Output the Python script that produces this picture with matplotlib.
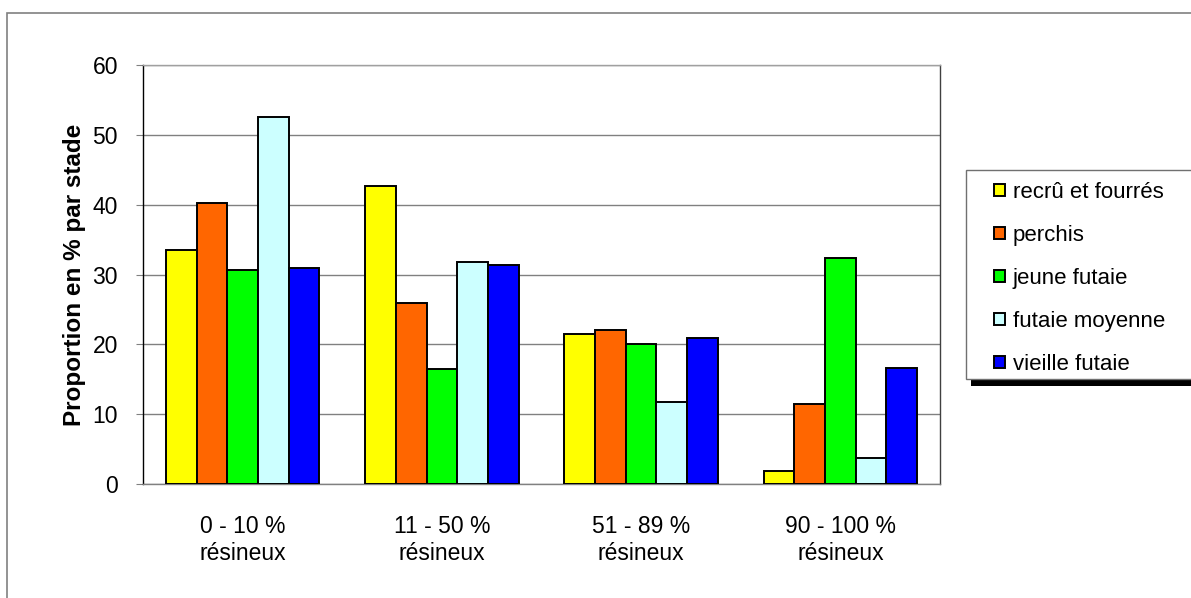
import numpy as np
import matplotlib
matplotlib.use("Agg")
import matplotlib.pyplot as plt
from matplotlib.patches import Rectangle

# --- données ---
categories = ["0 - 10 %\nrésineux", "11 - 50 %\nrésineux",
              "51 - 89 %\nrésineux", "90 - 100 %\nrésineux"]
series_names = ["recrû et fourrés", "perchis", "jeune futaie",
                "futaie moyenne", "vieille futaie"]
recru = [33.5, 42.7, 21.5, 1.9]
perchis = [40.3, 25.9, 22.1, 11.4]
jeune = [30.7, 16.5, 20.1, 32.3]
moyenne = [52.6, 31.8, 11.7, 3.7]
vieille = [31.0, 31.3, 20.9, 16.6]
colors = ["#ffff00", "#ff6600", "#00ff00", "#ccffff", "#0000ff"]

plt.rcParams['font.family'] = ['Liberation Sans', 'DejaVu Sans']

W, H = 1191, 598
fig = plt.figure(figsize=(W / 100, H / 100), dpi=100)

def fx(px): return px / W
def fy(py): return 1 - py / H

# cadre extérieur du graphique
fig.patches.append(Rectangle((fx(7), fy(700)), fx(1300), fy(13) - fy(700),
                             transform=fig.transFigure, fill=False,
                             edgecolor="#808080", lw=1.2, zorder=0))

ax = fig.add_axes([fx(143), fy(484), fx(940) - fx(143), fy(65) - fy(484)])

data = [recru, perchis, jeune, moyenne, vieille]
x = np.arange(len(categories))
bw = 1 / 6.5
for i, (vals, c, name) in enumerate(zip(data, colors, series_names)):
    ax.bar(x + (i - 2) * bw, vals, width=bw, color=c, edgecolor="black",
           linewidth=1.4, label=name, zorder=3)

ax.set_xlim(-0.5, len(categories) - 0.5)
ax.set_ylim(0, 60)
ax.set_yticks(range(0, 61, 10))
ax.set_xticks(x)
ax.set_xticklabels(categories, fontsize=16.5, linespacing=1.25)
ax.tick_params(axis='x', length=0, pad=22)
ax.tick_params(axis='y', labelsize=16.5, length=5, color="#808080", pad=13)
ax.yaxis.grid(True, color="#808080", lw=1.0, zorder=0)
ax.set_ylabel("Proportion en % par stade", fontsize=17.5, fontweight="bold",
              labelpad=5)

ax.spines['left'].set_color("black")
ax.spines['bottom'].set_color("#808080")
ax.spines['top'].set_color("#a0a0a0")
ax.spines['right'].set_color("#404040")
for s in ax.spines.values():
    s.set_linewidth(1.0)

# légende avec ombre
fig.patches.append(Rectangle((fx(971), fy(386)), fx(400), fy(177) - fy(386),
                             transform=fig.transFigure, facecolor="black",
                             edgecolor="none", zorder=1))
fig.patches.append(Rectangle((fx(966), fy(379)), fx(400), fy(170) - fy(379),
                             transform=fig.transFigure, facecolor="white",
                             edgecolor="#707070", lw=1.0, zorder=2))
handles, labels = ax.get_legend_handles_labels()
leg = fig.legend(handles, labels, loc="upper left",
                 bbox_to_anchor=(fx(985), fy(173)), frameon=False,
                 fontsize=16, handlelength=0.5, handleheight=0.5,
                 handletextpad=0.35, labelspacing=0.99, borderaxespad=0)
leg.set_zorder(5)

fig.savefig("out.png", dpi=100)
